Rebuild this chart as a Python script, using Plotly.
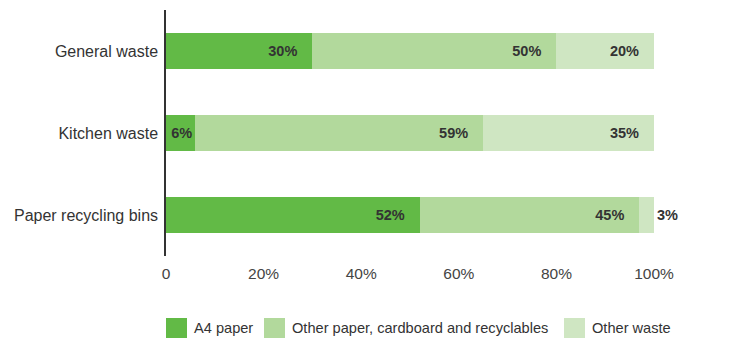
import plotly.graph_objects as go

categories = ["General waste", "Kitchen waste", "Paper recycling bins"]
series_names = ["A4 paper", "Other paper, cardboard and recyclables", "Other waste"]
a4_paper = [30, 6, 52]
other_paper = [50, 59, 45]
other_waste = [20, 35, 3]
colors = ["#62BA46", "#B2D99C", "#CFE6C2"]
tick_vals = [0, 20, 40, 60, 80, 100]
tick_text = ["0", "20%", "40%", "60%", "80%", "100%"]

PAD = "\u00a0\u00a0\u00a0"

def labels(vals):
    out = []
    for v in vals:
        if v < 10:
            out.append(f"{v}%")
        else:
            out.append(f"{v}%" + PAD)
    return out

fig = go.Figure()
series = [a4_paper, other_paper, other_waste]
for name, vals, col in zip(series_names, series, colors):
    positions = ["outside" if v < 5 else "inside" for v in vals]
    fig.add_trace(go.Bar(
        y=categories, x=vals, orientation="h", name=name,
        marker=dict(color=col, line=dict(width=0)),
        text=[(f"{v}%" if p == "outside" else t) for v, p, t in zip(vals, positions, labels(vals))],
        textposition=positions,
        insidetextanchor="end",
        textfont=dict(family="Liberation Sans, Arial", size=14.5, color="#333333", weight="bold"),
        constraintext="none",
        cliponaxis=False,
        showlegend=False,
        hoverinfo="skip",
    ))

fig.update_layout(
    barmode="stack",
    bargap=0.55,
    width=731, height=339,
    margin=dict(l=166, r=77, t=10, b=83),
    paper_bgcolor="white", plot_bgcolor="white",
    font=dict(family="Liberation Sans, Arial", size=14, color="#333333"),
    uniformtext=dict(minsize=14, mode="show"),
    showlegend=False,
)
fig.update_xaxes(range=[0, 100], tickvals=tick_vals, ticktext=tick_text,
                 showgrid=False, zeroline=False, showline=False,
                 tickfont=dict(size=15.5, color="#444444"), ticks="", ticklabelstandoff=6)
fig.update_yaxes(categoryorder="array", categoryarray=categories, autorange="reversed",
                 showgrid=False, zeroline=False, showline=True, linecolor="#333333",
                 linewidth=1.5, ticks="", ticklabelstandoff=3,
                 tickfont=dict(size=16, color="#333333"))

# manual legend with larger swatches
W = 488.0
H = 246.0
leg_items = [(166, series_names[0]), (264, series_names[1]), (564, series_names[2])]
for (px, name), col in zip(leg_items, colors):
    x0 = (px - 166) / W
    x1 = (px + 21 - 166) / W
    fig.add_shape(type="rect", xref="paper", yref="paper",
                  x0=x0, x1=x1, y0=(256 - 338) / H, y1=(256 - 318) / H,
                  fillcolor=col, line=dict(width=0))
    fig.add_annotation(xref="paper", yref="paper", x=(px + 26 - 166) / W,
                       y=(256 - 328) / H, text=name, showarrow=False,
                       xanchor="left", yanchor="middle",
                       font=dict(size=14.6, color="#333333"))

fig.write_html("out.html")
